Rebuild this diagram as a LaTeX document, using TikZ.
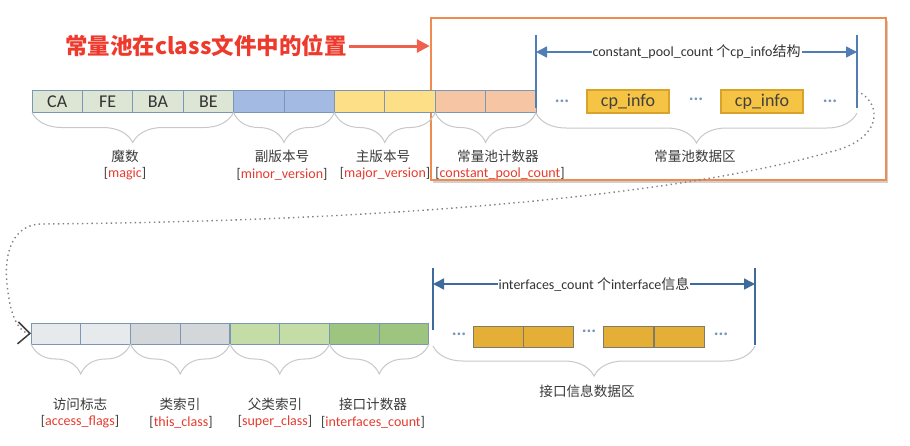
\documentclass[tikz,border=0pt]{standalone}
\usepackage{fontspec}
\setmainfont{Carlito}
\newfontfamily\cjk{Noto Sans CJK SC}
\usetikzlibrary{arrows.meta,decorations.pathreplacing,shadows}
\definecolor{titlered}{HTML}{EE3A2C}
\definecolor{arrowred}{HTML}{F0604E}
\definecolor{framecol}{HTML}{EF8B50}
\definecolor{cellborder}{HTML}{7B97B5}
\definecolor{magicfill}{HTML}{DDE6D5}
\definecolor{minorfill}{HTML}{A3BAE2}
\definecolor{majorfill}{HTML}{FDDF87}
\definecolor{cpcfill}{HTML}{F6C6A4}
\definecolor{accfill}{HTML}{E7EAEC}
\definecolor{thisfill}{HTML}{D4D7DA}
\definecolor{superfill}{HTML}{C4DCA6}
\definecolor{ifcfill}{HTML}{9DC57F}
\definecolor{cpinfofill}{HTML}{F5C444}
\definecolor{cpinfoborder}{HTML}{D8A22B}
\definecolor{iffill}{HTML}{E5AE36}
\definecolor{ifborder}{HTML}{7E7C66}
\definecolor{dimblue}{HTML}{4F7DB4}
\definecolor{dimblue2}{HTML}{3F6B9C}
\definecolor{dotblue}{HTML}{7A94BA}
\definecolor{bracegray}{HTML}{C8C8C8}
\definecolor{labgray}{HTML}{3A3A3A}
\definecolor{labred}{HTML}{E63B2E}
\begin{document}
\begin{tikzpicture}[x=1pt,y=-1pt,
  cell/.style={draw=cellborder, line width=1pt, minimum width=50.4pt, minimum height=22pt,
    inner sep=0pt, outer sep=0pt, font=\fontsize{18}{18}\selectfont, text=black!80},
  bcell/.style={cell, minimum width=49.75pt, minimum height=21pt},
  cpinfo/.style={draw=cpinfoborder, fill=cpinfofill, line width=1.5pt, minimum width=82pt,
    minimum height=23pt, inner sep=0pt, font=\fontsize{18}{18}\selectfont, text=black!75},
  ifbox/.style={draw=ifborder, fill=iffill, line width=1pt, minimum width=50pt,
    minimum height=21pt, inner sep=0pt, outer sep=0pt},
  brc/.style={draw=bracegray, line width=1pt, decorate,
    decoration={brace, mirror, amplitude=30pt}},
  cnlab/.style={font=\cjk\fontsize{13.6}{14}\selectfont, text=labgray, inner sep=0pt},
  enlab/.style={font=\fontsize{14}{15}\selectfont, text=labgray, inner sep=0pt},
  dots/.style={font=\bfseries\fontsize{18}{18}\selectfont, text=dotblue, inner sep=0pt},
  vline/.style={draw=dimblue, line width=1.5pt},
  dimarrow/.style={draw=dimblue, line width=1.5pt, {Triangle[length=11pt,width=11pt]}-{Triangle[length=11pt,width=11pt]}},
  dimlab/.style={fill=white, inner sep=1pt, font=\fontsize{14}{15}\selectfont, text=black!80}
]
\fill[white] (0,0) rectangle (910,445);
\useasboundingbox (0,0) rectangle (910,445);

% frame
\node[draw=framecol, line width=2.5pt, minimum width=455pt, minimum height=162pt, inner sep=0pt,
  drop shadow={shadow xshift=2pt, shadow yshift=-3pt, opacity=0.3, fill=black!60}, fill=white]
  (frame) at (658.5,99) {};

% title
\node[font=\cjk\bfseries\fontsize{22.5}{23}\selectfont, text=titlered, inner sep=0pt] (title) at (206,46)
  {常量池在class文件中的位置};
\draw[arrowred, line width=3pt, -{Triangle[length=13pt,width=13pt]}] (title.east) ++(2,0) coordinate (ta) (ta) -- (frame.west |- ta);

% top row
\node[cell, fill=magicfill] (t1) at (57.2,101.5) {CA};
\node[cell, fill=magicfill] (t2) at (107.6,101.5) {FE};
\node[cell, fill=magicfill] (t3) at (158.0,101.5) {BA};
\node[cell, fill=magicfill] (t4) at (208.4,101.5) {BE};
\node[cell, fill=minorfill] (t5) at (258.8,101.5) {};
\node[cell, fill=minorfill] (t6) at (309.2,101.5) {};
\node[cell, fill=majorfill] (t7) at (359.6,101.5) {};
\node[cell, fill=majorfill] (t8) at (410.0,101.5) {};
\node[cell, fill=cpcfill] (t9) at (460.4,101.5) {};
\node[cell, fill=cpcfill] (t10) at (510.8,101.5) {};

% constant pool data region
\coordinate (cpLt) at (536,35); \coordinate (cpLb) at (536,108);
\coordinate (cpRt) at (857,35); \coordinate (cpRb) at (857,108);
\draw[vline] (cpLt) -- (cpLb);
\draw[vline] (cpRt) -- (cpRb);
\coordinate (cpA) at (536,52); \coordinate (cpB) at (857,52);
\draw[dimarrow] (cpA) -- node[dimlab] (cpdim) {constant\_pool\_count {\cjk 个}cp\_info{\cjk 结构}} (cpB);
\node[cpinfo] (ci1) at (628,101.5) {cp\_info};
\node[cpinfo] (ci2) at (762,101.5) {cp\_info};
\node[dots] (d1) at (562,101) {...};
\node[dots] (d2) at (696,99) {...};
\node[dots] (d3) at (830,101) {...};

% top braces
\coordinate (cpBl) at (536,113); \coordinate (cpBr) at (857,113);
\draw[brc] (t1.south west) -- (t4.south east);
\draw[brc] (t5.south west) -- (t6.south east);
\draw[brc] (t7.south west) -- (t8.south east);
\draw[brc] (t9.south west) -- (t10.south east);
\draw[brc] (cpBl) -- (cpBr);

% top labels
\node[cnlab] (l1) at (125,156) {魔数};
\node[enlab] (r1) at (125,174) {[\textcolor{labred}{magic}]};
\node[cnlab] (l2) at (282,156) {副版本号};
\node[enlab] (r2) at (282,174) {[\textcolor{labred}{minor\_version}]};
\node[cnlab] (l3) at (383,156) {主版本号};
\node[enlab] (r3) at (385,174) {[\textcolor{labred}{major\_version}]};
\node[cnlab] (l4) at (498,156) {常量池计数器};
\node[enlab] (r4) at (500,174) {[\textcolor{labred}{constant\_pool\_count}]};
\node[cnlab] (l5) at (695,156) {常量池数据区};

% bottom row
\node[bcell, fill=accfill] (b1) at (55.9,333.5) {};
\node[bcell, fill=accfill] (b2) at (105.6,333.5) {};
\node[bcell, fill=thisfill] (b3) at (155.4,333.5) {};
\node[bcell, fill=thisfill] (b4) at (205.1,333.5) {};
\node[bcell, fill=superfill] (b5) at (254.9,333.5) {};
\node[bcell, fill=superfill] (b6) at (304.6,333.5) {};
\node[bcell, fill=ifcfill] (b7) at (354.4,333.5) {};
\node[bcell, fill=ifcfill] (b8) at (404.1,333.5) {};

% interfaces region
\coordinate (ifLt) at (433,268); \coordinate (ifLb) at (433,330);
\coordinate (ifRt) at (755,268); \coordinate (ifRb) at (755,345);
\draw[vline, draw=dimblue2] (ifLt) -- (ifLb);
\draw[vline, draw=dimblue2] (ifRt) -- (ifRb);
\coordinate (ifA) at (433,284); \coordinate (ifB) at (755,284);
\draw[dimarrow, draw=dimblue2] (ifA) -- node[dimlab] (ifdim) {interfaces\_count {\cjk 个}interface{\cjk 信息}} (ifB);
\node[ifbox] (i1) at (498,336.5) {};
\node[ifbox] (i2) at (548,336.5) {};
\node[ifbox] (i3) at (628.5,336.5) {};
\node[ifbox] (i4) at (679,336.5) {};
\node[dots] (e1) at (459,334) {...};
\node[dots] (e2) at (589,331) {...};
\node[dots] (e3) at (721,334) {...};

% bottom braces
\coordinate (ifBl) at (433,346); \coordinate (ifBr) at (755,346);
\draw[brc] (b1.south west) -- (b2.south east);
\draw[brc] (b3.south west) -- (b4.south east);
\draw[brc] (b5.south west) -- (b6.south east);
\draw[brc] (b7.south west) -- (b8.south east);
\draw[brc] (ifBl) -- (ifBr);

% bottom labels
\node[cnlab] (m1) at (80,404) {访问标志};
\node[enlab] (s1) at (80,422) {[\textcolor{labred}{access\_flags}]};
\node[cnlab] (m2) at (180,404) {类索引};
\node[enlab] (s2) at (181,422) {[\textcolor{labred}{this\_class}]};
\node[cnlab] (m3) at (275,404) {父类索引};
\node[enlab] (s3) at (275,422) {[\textcolor{labred}{super\_class}]};
\node[cnlab] (m4) at (373,404) {接口计数器};
\node[enlab] (s4) at (373,422) {[\textcolor{labred}{interfaces\_count}]};
\node[cnlab] (m5) at (587,391) {接口信息数据区};

% dotted connector
\coordinate (dstart) at (857,91);
\draw[black!50, line width=1.4pt, dash pattern=on 1.4pt off 3.4pt,
  -{Straight Barb[length=12pt,width=22pt,line width=1.5pt,color=black!75]}]
  (dstart) .. controls (884,104) and (882,140) .. (830,152)
  .. controls (690,192) and (420,221) .. (40,224)
  .. controls (8,226) and (3,262) .. (8,292)
  .. controls (11,318) and (20,333) .. (b1.west);
\end{tikzpicture}
\end{document}
